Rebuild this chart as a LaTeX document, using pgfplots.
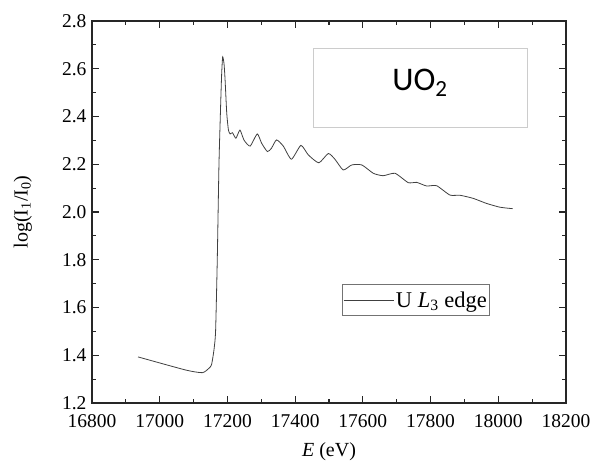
\documentclass[border=0pt]{standalone}
\usepackage{pgfplots}
\pgfplotsset{compat=1.18}
\usepackage{fontspec}
\setmainfont{Liberation Serif}
\newfontfamily\carlito{Carlito}
\begin{document}
\begin{tikzpicture}[x=1bp,y=1bp]
\path[use as bounding box] (0,0) rectangle (592,468);
\begin{axis}[
  at={(92bp,65bp)}, anchor=south west,
  scale only axis, width=474bp, height=382bp,
  xmin=16800, xmax=18200, ymin=1.2, ymax=2.8,
  xtick distance=200, ytick distance=0.2, minor tick num=1,
  scaled x ticks=false, scaled y ticks=false,
  tick align=inside, major tick length=7bp, minor tick length=4bp,
  axis line style={line width=1.2bp, black!85}, every tick/.style={line width=1.1bp, black!85},
  /pgf/number format/assume math mode=true,
  ticklabel style={font=\fontsize{19.5bp}{22bp}\selectfont},
  xticklabel style={/pgf/number format/set thousands separator={}, yshift=-8bp},
  yticklabel style={/pgf/number format/fixed, /pgf/number format/precision=1, /pgf/number format/fixed zerofill, xshift=-2bp},
  xlabel={\textit{E} (eV)}, ylabel={log(I$_\mathrm{1}$/I$_\mathrm{0}$)},
  label style={font=\fontsize{20bp}{22bp}\selectfont},
  xlabel style={at={(axis description cs:0.5,-0.128)}, anchor=center},
  ylabel style={at={(axis description cs:-0.146,0.5)}, anchor=center},
  legend style={at={(0.527,0.311)}, anchor=north west, draw=black!55, line width=0.8bp,
    font=\fontsize{22.5bp}{24bp}\selectfont, inner xsep=1bp, inner ysep=5bp, row sep=0pt},
  legend cell align=left,
  legend image code/.code={\draw[#1] (0bp,0bp) -- (50bp,0bp);},
]
\draw[black!20, line width=0.8bp] (axis cs:17453,2.356) rectangle (axis cs:18085,2.687);
\node[font=\carlito\fontsize{33bp}{35bp}\selectfont] at (axis cs:17769,2.54) {UO\textsubscript{2}};
\addplot[black!75, line width=0.8bp, smooth, tension=0.35] coordinates {
(16936,1.393) (17077,1.338) (17126,1.327) (17145,1.345) (17153,1.36) (17160,1.42)
(17165,1.50) (17170,1.80) (17175,2.20) (17180,2.45) (17183,2.58) (17186,2.650)
(17190,2.62) (17193,2.555) (17198,2.413) (17203,2.343) (17208,2.327) (17215,2.332)
(17225,2.309) (17237,2.343) (17249,2.301) (17267,2.276) (17288,2.327) (17301,2.288)
(17318,2.253) (17330,2.267) (17345,2.302) (17365,2.276) (17389,2.221) (17417,2.279)
(17439,2.239) (17470,2.206) (17498,2.245) (17518,2.220) (17542,2.176) (17567,2.197)
(17597,2.197) (17631,2.162) (17660,2.152) (17695,2.162) (17734,2.123) (17759,2.124)
(17788,2.109) (17818,2.110) (17857,2.071) (17887,2.070) (17926,2.057) (17965,2.036)
(18005,2.020) (18042,2.014)
};
\addlegendentry{U \textit{L}$_\mathrm{3}$ edge}
\end{axis}
\end{tikzpicture}
\end{document}
